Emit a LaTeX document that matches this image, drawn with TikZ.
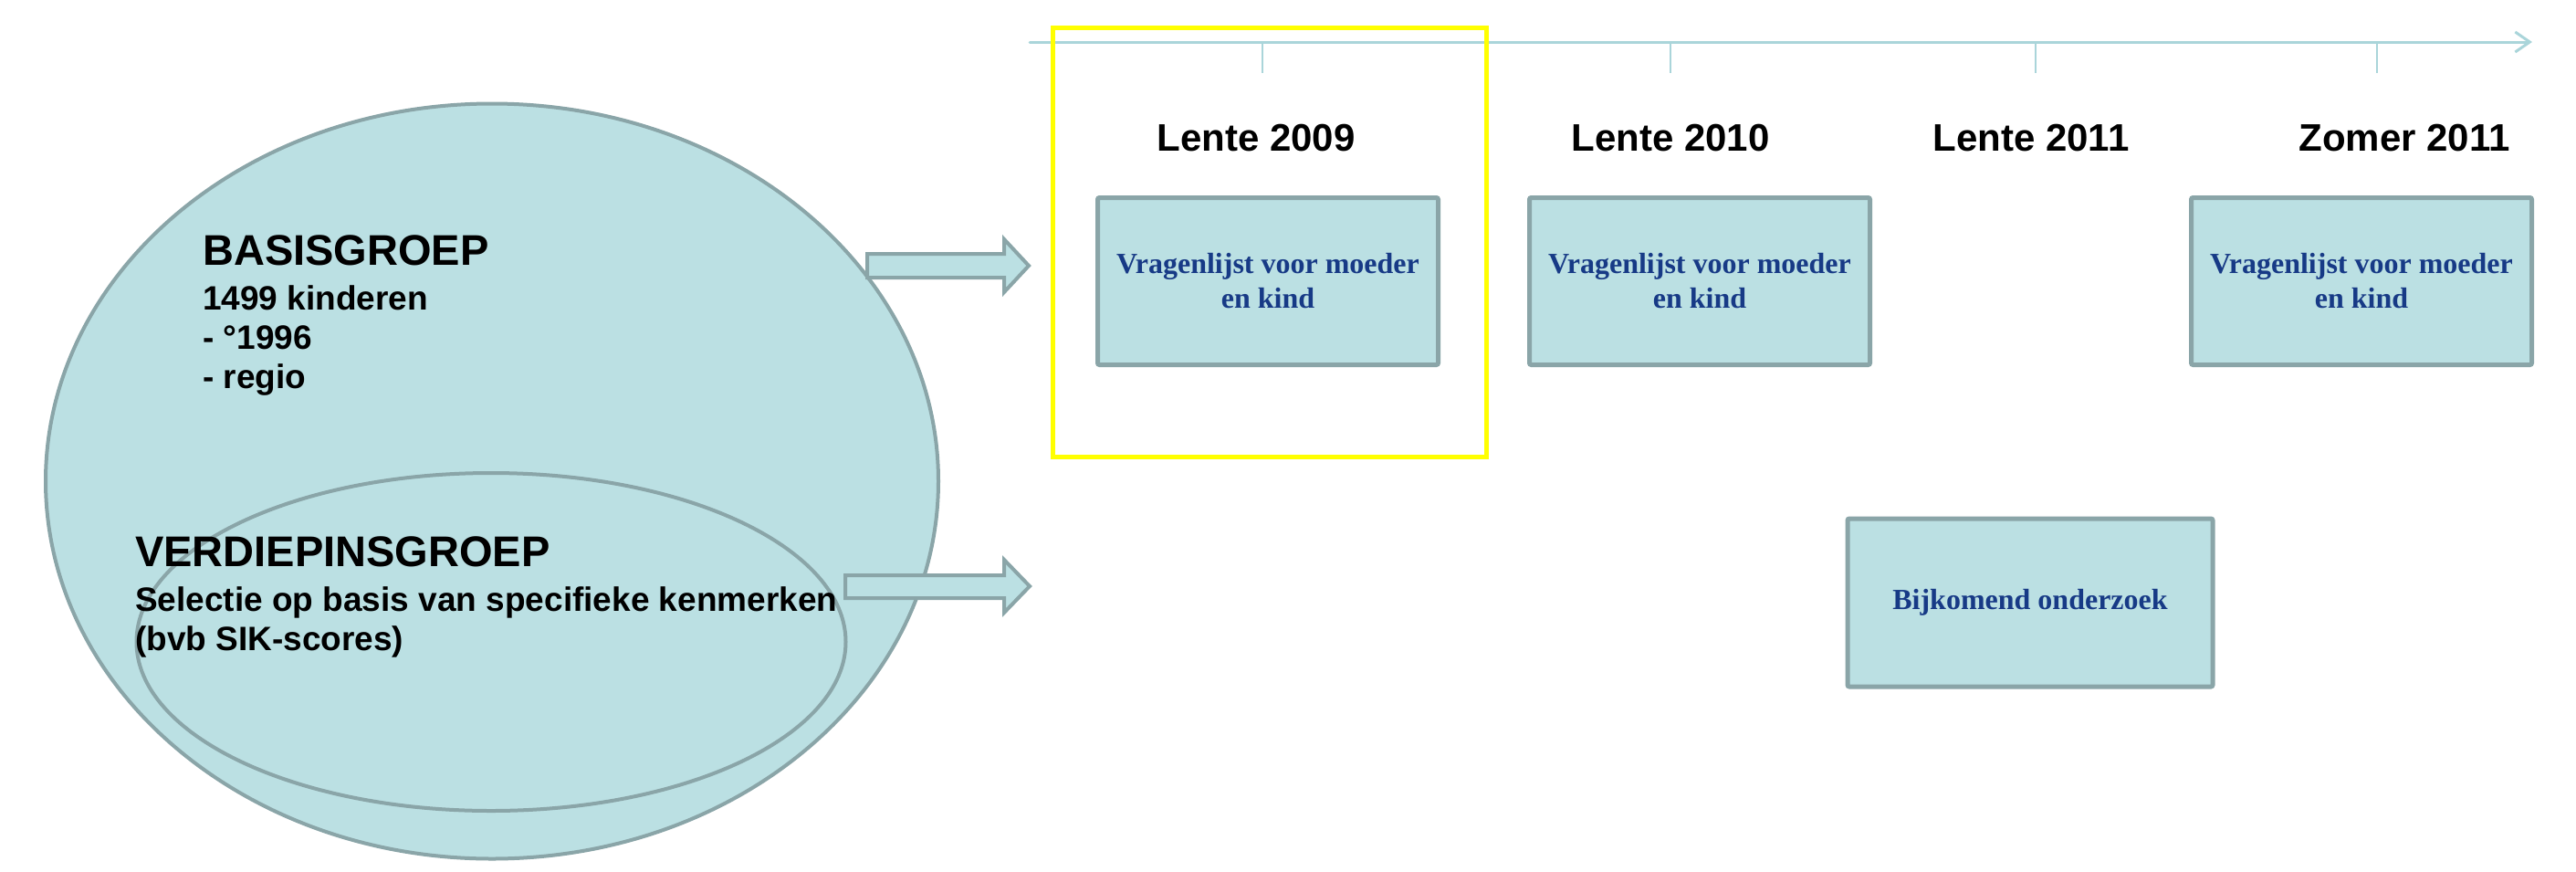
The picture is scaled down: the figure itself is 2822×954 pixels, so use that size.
\documentclass[tikz,border=0pt]{standalone}
\usepackage{fontspec}
\newfontfamily\arialf{Liberation Sans}
\newfontfamily\tnrf{Liberation Serif}
\usetikzlibrary{shapes.geometric,arrows.meta}
\definecolor{boxfill}{HTML}{BBE0E3}
\definecolor{boxline}{HTML}{8AA5A8}
\definecolor{tline}{HTML}{AAD5DA}
\definecolor{txtblue}{HTML}{173A86}
\definecolor{hiyellow}{HTML}{FFFF00}
\tikzset{
  stagebox/.style={draw=boxline, fill=boxfill, line width=5pt, rounded corners=2pt, minimum width=373pt, minimum height=183pt, inner sep=0pt, align=center, text=txtblue, font=\tnrf\bfseries\fontsize{32}{38}\selectfont},
  grp/.style={draw=boxline, fill=boxfill, ellipse, inner sep=0pt},
  blockarrow/.style={draw=boxline, fill=boxfill, line width=4pt, line join=miter},
  yearlbl/.style={font=\arialf\bfseries\fontsize{42}{48}\selectfont, anchor=base},
  headlbl/.style={font=\arialf\bfseries\fontsize{47}{52}\selectfont, anchor=base west, inner sep=0pt},
  sublbl/.style={font=\arialf\bfseries\fontsize{37}{42}\selectfont, anchor=base west, inner sep=0pt},
  tick/.style={draw=tline, line width=2pt}
}
\begin{document}
\begin{tikzpicture}[x=1pt,y=-1pt]
\useasboundingbox (0,0) rectangle (2822,954);
% timeline
\coordinate (tlstart) at (1128,46);
\coordinate (tlend) at (2774,46);
\draw[tline, line width=3pt, line cap=round, -{Straight Barb[length=16pt,width=22pt,line width=3pt]}] (tlstart) -- (tlend);
\foreach \tx/\tn in {1383/t1,1830/t2,2230/t3,2604/t4}{
  \coordinate (\tn top) at (\tx,46);
  \coordinate (\tn bot) at (\tx,80);
  \draw[tick] (\tn top) -- (\tn bot);
}
% year labels
\node[yearlbl] (y1) at (1376,165) {Lente 2009};
\node[yearlbl] (y2) at (1830,165) {Lente 2010};
\node[yearlbl] (y3) at (2225,165) {Lente 2011};
\node[yearlbl] (y4) at (2634,165) {Zomer 2011};
% boxes
\node[stagebox] (b1) at (1389,308) {Vragenlijst voor moeder\\en kind};
\node[stagebox] (b2) at (1862,308) {Vragenlijst voor moeder\\en kind};
\node[stagebox] (b3) at (2587,308) {Vragenlijst voor moeder\\en kind};
\node[stagebox, minimum width=400pt, minimum height=184pt] (b4) at (2224,660) {Bijkomend onderzoek};
% yellow highlight
\node[draw=hiyellow, line width=5pt, minimum width=475pt, minimum height=470pt, inner sep=0pt] (hl) at (1390.5,265) {};
% groups
\node[grp, line width=4pt, minimum width=978pt, minimum height=827pt] (basis) at (539,527) {};
\node[grp, line width=4pt, minimum width=777pt, minimum height=370pt] (verd) at (538,703) {};
% block arrows
\draw[blockarrow] (950,278) -- (1100,278) -- (1100,262) -- (1127,291) -- (1100,320) -- (1100,304) -- (950,304) -- cycle;
\draw[blockarrow] (926,630) -- (1100,630) -- (1100,613) -- (1128,642) -- (1100,671) -- (1100,655) -- (926,655) -- cycle;
% group texts
\node[headlbl] (bt) at (222,290) {BASISGROEP};
\node[sublbl] (bt1) at (222,339) {1499 kinderen};
\node[sublbl] (bt2) at (222,382) {- °1996};
\node[sublbl] (bt3) at (222,425) {- regio};
\node[headlbl] (vt) at (148,620) {VERDIEPINSGROEP};
\node[sublbl] (vt1) at (148,669) {Selectie op basis van specifieke kenmerken};
\node[sublbl] (vt2) at (148,712) {(bvb SIK-scores)};
\end{tikzpicture}
\end{document}
